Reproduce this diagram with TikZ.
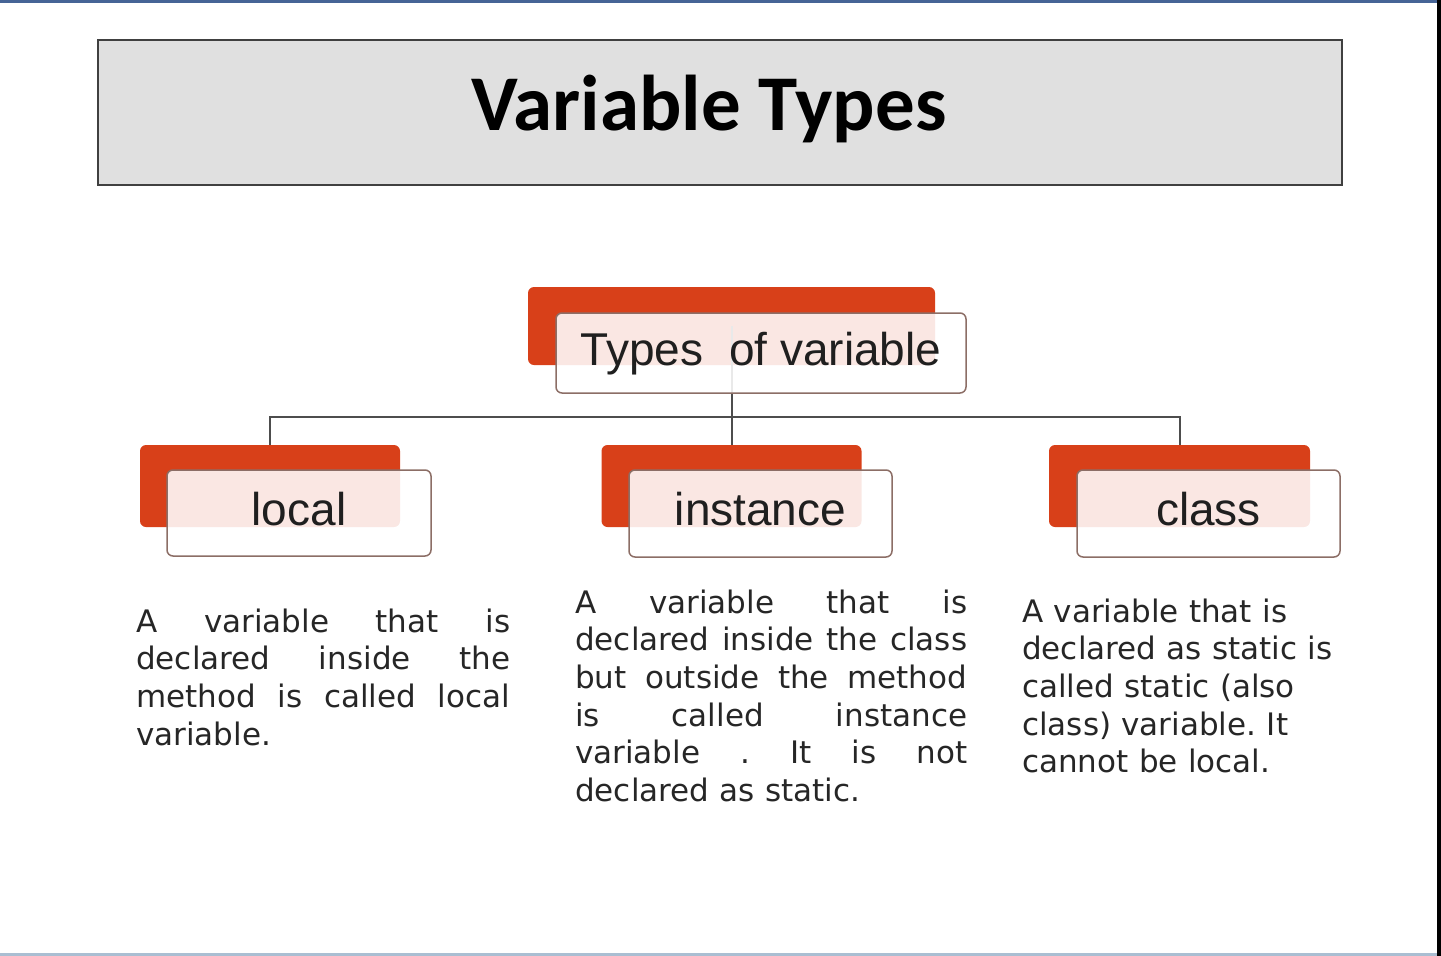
\documentclass[tikz,border=0pt]{standalone}
\usepackage{fontspec}
\setmainfont{DejaVu Sans}
\newfontfamily\titlefont{Carlito}
\newfontfamily\labelfont{Liberation Sans}

\definecolor{boxred}{RGB}{216,64,25}
\definecolor{boxedge}{RGB}{140,110,102}
\definecolor{titlegray}{RGB}{224,224,224}
\definecolor{linegray}{RGB}{77,77,77}
\definecolor{frametop}{RGB}{70,100,150}
\definecolor{framebot}{RGB}{170,190,210}

% one justified line of the descriptions
\newlength{\descwd}
\newcommand{\jl}[1]{{\spaceskip=0pt\xspaceskip=0pt\makebox[\descwd][s]{#1}}}

\tikzset{
    backbox/.style={fill=boxred, rounded corners=6pt, inner sep=0pt},
    frontbox/.style={draw=boxedge, line width=1.5pt, fill=white, fill opacity=0.88, text opacity=1,
        rounded corners=6pt, inner sep=0pt, text=black!88,
        font=\labelfont\fontsize{46}{50}\selectfont, text height=34pt, text depth=10pt},
    conn/.style={draw=linegray, line width=2pt},
    desc/.style={anchor=north west, inner sep=0pt, align=left, text=black!85,
        font=\fontsize{31}{37.7}\selectfont\frenchspacing}
}

\begin{document}
\begin{tikzpicture}[x=1pt,y=-1pt]
    \useasboundingbox (0,0) rectangle (1441,956);
    \fill[frametop] (0,0) rectangle (1441,2.5);
    \fill[framebot] (0,953) rectangle (1441,956);
    \fill[black] (1437,0) rectangle (1441,956);

    % title
    \node[draw=black!75, fill=titlegray, line width=2pt, minimum width=1244pt, minimum height=145pt] (titlebox) at (720,112.5) {};
    \node[anchor=base, font=\titlefont\bfseries\fontsize{79}{80}\selectfont] (title) at (709,130) {Variable Types};

    % red boxes behind
    \node[backbox, minimum width=407pt, minimum height=78pt] (topback) at (731.5,326) {};
    \node[backbox, minimum width=260pt, minimum height=82pt] (localback) at (270,486) {};
    \node[backbox, minimum width=260pt, minimum height=82pt] (instback) at (731.5,486) {};
    \node[backbox, minimum width=261pt, minimum height=82pt] (classback) at (1179.5,486) {};

    % tree lines
    \draw[conn] (topback.center) -- (instback.north);
    \draw[conn] (localback.north) -- ++(0,-28) -| (classback.north);

    % labels
    \node[frontbox, minimum width=410pt, minimum height=80pt] (top) at (761,353) {Types\ \ of variable};
    \node[frontbox, minimum width=264pt, minimum height=86pt] (local) at (299,513) {local};
    \node[frontbox, minimum width=263pt, minimum height=87pt] (inst) at (760.5,513.5) {instance};
    \node[frontbox, minimum width=263pt, minimum height=87pt] (class) at (1208.5,513.5) {class};

    % descriptions
    \node[desc, text width=374pt] (localtxt) at (136,608.4)
        {\setlength{\descwd}{374pt}%
         \jl{A variable that is}\\ \jl{declared inside the}\\ \jl{method is called local}\\ variable.};
    \node[desc, text width=392pt] (insttxt) at (575,589.4)
        {\setlength{\descwd}{392pt}%
         \jl{A variable that is}\\ \jl{declared inside the class}\\ \jl{but outside the method}\\
         \jl{is called instance}\\ \jl{variable . It is not}\\ declared as static.};
    \node[desc, text width=330pt] (classtxt) at (1022,598.4)
        {A variable that is\\ declared as static is\\ called static (also\\ class) variable. It\\ cannot be local.};

\end{tikzpicture}
\end{document}
